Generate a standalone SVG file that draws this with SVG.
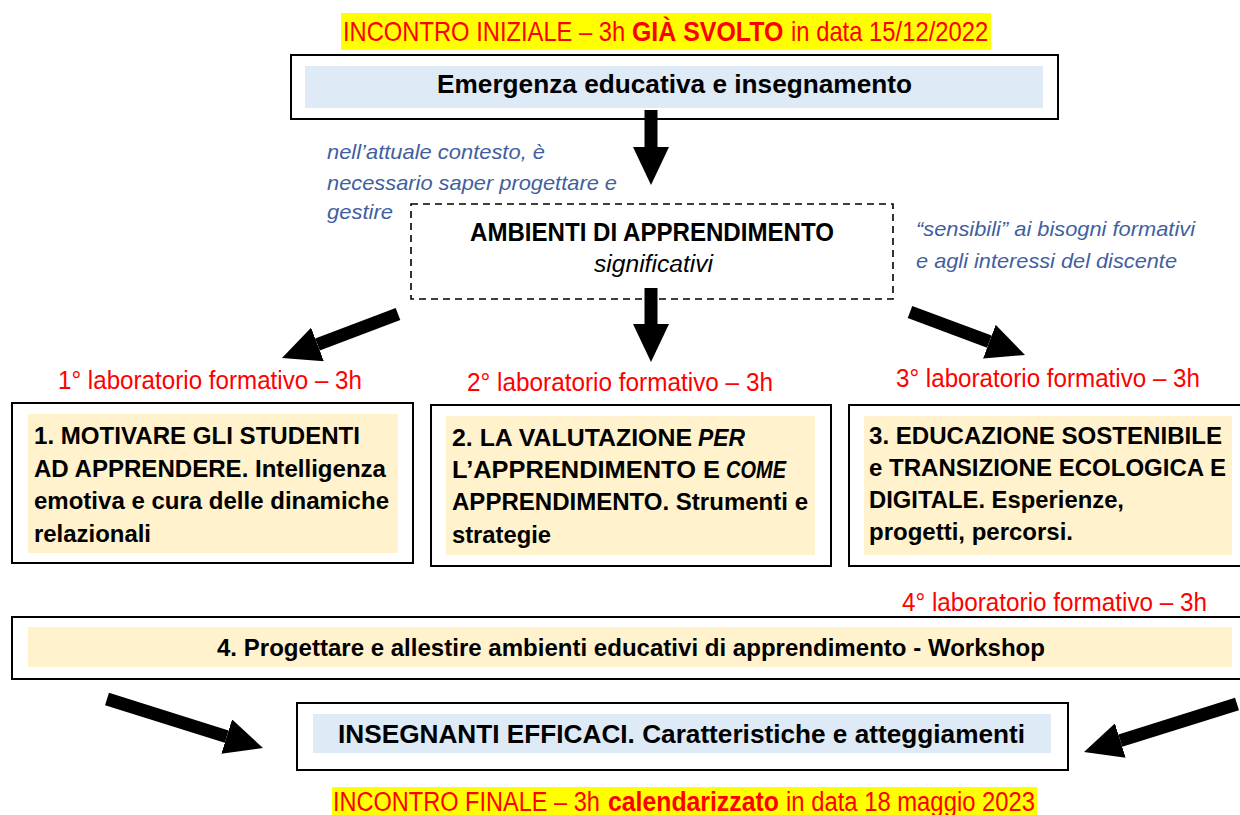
<svg xmlns="http://www.w3.org/2000/svg" width="1240" height="815" viewBox="0 0 1240 815">
<style>
.t{font-family:"Liberation Sans Narrow","Liberation Sans",Arial,sans-serif;}
.b{font-weight:bold;}
.i{font-style:italic;}
.red{fill:#FF0000;}
.blue{fill:#3F5FA0;font-style:italic;font-size:21px;}
.box{fill:#FFFFFF;stroke:#000;stroke-width:2;}
.dash{fill:#FFFFFF;stroke:#000;stroke-width:1.6;stroke-dasharray:7 5;}
.lb{fill:#DEEAF6;}
.bg{fill:#FFF2CC;}
.hl{fill:#FFFF00;}
.bt{font-size:24px;font-weight:bold;fill:#000;}
.lab{font-size:25px;fill:#FF0000;}
.arr{stroke:#000;stroke-width:13;fill:none;marker-end:url(#ah);}
</style>
<defs>
<marker id="ah" viewBox="0 0 38 36" markerWidth="38" markerHeight="36" refX="0" refY="18" markerUnits="userSpaceOnUse" orient="auto">
<path d="M0,0 L38,18 L0,36 Z" fill="#000"/>
</marker>
</defs>
<rect width="1240" height="815" fill="#FFFFFF"/>

<g id="incontro-iniziale">
<rect class="hl" x="341" y="13" width="650" height="37"/>
<text class="t red" transform="translate(343,41) scale(0.85,1)" font-size="28" textLength="332" lengthAdjust="spacingAndGlyphs">INCONTRO INIZIALE – 3h</text>
<text class="t red b" transform="translate(632,41) scale(0.85,1)" font-size="28" textLength="178" lengthAdjust="spacingAndGlyphs">GIÀ SVOLTO</text>
<text class="t red" transform="translate(791,41) scale(0.85,1)" font-size="28" textLength="232" lengthAdjust="spacingAndGlyphs">in data 15/12/2022</text>
</g>

<g id="emergenza">
<rect class="box" x="291" y="55" width="767" height="64"/>
<rect class="lb" x="305" y="66" width="738" height="42"/>
<text class="t b" x="437" y="93" font-size="26" textLength="475" lengthAdjust="spacingAndGlyphs">Emergenza educativa e insegnamento</text>
</g>

<g id="note-left">
<text class="t blue" x="327" y="159" textLength="218" lengthAdjust="spacingAndGlyphs">nell’attuale contesto, è</text>
<text class="t blue" x="327" y="190" textLength="290" lengthAdjust="spacingAndGlyphs">necessario saper progettare e</text>
<text class="t blue" x="327" y="219" textLength="66" lengthAdjust="spacingAndGlyphs">gestire</text>
</g>

<g id="ambienti">
<rect class="dash" x="411" y="204" width="482" height="95"/>
<text class="t b" x="470" y="241" font-size="25" textLength="364" lengthAdjust="spacingAndGlyphs">AMBIENTI DI APPRENDIMENTO</text>
<text class="t i" x="594" y="272" font-size="23" textLength="119" lengthAdjust="spacingAndGlyphs">significativi</text>
</g>

<g id="note-right">
<text class="t blue" x="916" y="236" textLength="279" lengthAdjust="spacingAndGlyphs">“sensibili” ai bisogni formativi</text>
<text class="t blue" x="916" y="268" textLength="261" lengthAdjust="spacingAndGlyphs">e agli interessi del discente</text>
</g>

<g id="connectors">
<line class="arr" x1="651" y1="110" x2="651" y2="147"/>
<line class="arr" x1="651" y1="288" x2="651" y2="324"/>
<line class="arr" x1="398" y1="314" x2="317.5" y2="344.5"/>
<line class="arr" x1="910" y1="312" x2="989.4" y2="341.7"/>
<line class="arr" x1="107" y1="699" x2="226.7" y2="736.6"/>
<line class="arr" x1="1237" y1="704" x2="1120.3" y2="740.6"/>
</g>

<g id="lab1">
<text class="t lab" x="58" y="389" textLength="304" lengthAdjust="spacingAndGlyphs">1° laboratorio formativo – 3h</text>
<rect class="box" x="12" y="403" width="401" height="160"/>
<rect class="bg" x="28" y="414" width="370" height="139"/>
<text class="t bt" x="34" y="444" textLength="326" lengthAdjust="spacingAndGlyphs">1. MOTIVARE GLI STUDENTI</text>
<text class="t bt" x="34" y="477" textLength="352" lengthAdjust="spacingAndGlyphs">AD APPRENDERE. Intelligenza</text>
<text class="t bt" x="34" y="509" textLength="355" lengthAdjust="spacingAndGlyphs">emotiva e cura delle dinamiche</text>
<text class="t bt" x="34" y="542" textLength="117" lengthAdjust="spacingAndGlyphs">relazionali</text>
</g>

<g id="lab2">
<text class="t lab" x="467" y="391" textLength="306" lengthAdjust="spacingAndGlyphs">2° laboratorio formativo – 3h</text>
<rect class="box" x="431" y="405" width="400" height="161"/>
<rect class="bg" x="446" y="416" width="369" height="139"/>
<text class="t bt" x="452" y="446" textLength="240" lengthAdjust="spacingAndGlyphs">2. LA VALUTAZIONE</text>
<text class="t bt i" x="698" y="446" textLength="47" lengthAdjust="spacingAndGlyphs">PER</text>
<text class="t bt" x="452" y="478" textLength="268" lengthAdjust="spacingAndGlyphs">L’APPRENDIMENTO E</text>
<text class="t bt i" x="726" y="478" textLength="60" lengthAdjust="spacingAndGlyphs">COME</text>
<text class="t bt" x="452" y="510" textLength="356" lengthAdjust="spacingAndGlyphs">APPRENDIMENTO. Strumenti e</text>
<text class="t bt" x="452" y="543" textLength="99" lengthAdjust="spacingAndGlyphs">strategie</text>
</g>

<g id="lab3">
<text class="t lab" x="896" y="387" textLength="304" lengthAdjust="spacingAndGlyphs">3° laboratorio formativo – 3h</text>
<rect class="box" x="849" y="405" width="400" height="161"/>
<rect class="bg" x="864" y="416" width="368" height="139"/>
<text class="t bt" x="869" y="444" textLength="353" lengthAdjust="spacingAndGlyphs">3. EDUCAZIONE SOSTENIBILE</text>
<text class="t bt" x="869" y="476" textLength="357" lengthAdjust="spacingAndGlyphs">e TRANSIZIONE ECOLOGICA E</text>
<text class="t bt" x="869" y="508" textLength="255" lengthAdjust="spacingAndGlyphs">DIGITALE. Esperienze,</text>
<text class="t bt" x="869" y="540" textLength="204" lengthAdjust="spacingAndGlyphs">progetti, percorsi.</text>
</g>

<g id="lab4">
<text class="t lab" x="902" y="611" textLength="305" lengthAdjust="spacingAndGlyphs">4° laboratorio formativo – 3h</text>
<rect class="box" x="12" y="617" width="1240" height="62"/>
<rect class="bg" x="28" y="627" width="1204" height="40"/>
<text class="t bt" x="217" y="656" textLength="828" lengthAdjust="spacingAndGlyphs">4. Progettare e allestire ambienti educativi di apprendimento - Workshop</text>
</g>

<g id="insegnanti">
<rect class="box" x="297" y="703" width="771" height="67"/>
<rect class="lb" x="313" y="714" width="738" height="39"/>
<text class="t b" x="338" y="743" font-size="25" textLength="687" lengthAdjust="spacingAndGlyphs">INSEGNANTI EFFICACI. Caratteristiche e atteggiamenti</text>
</g>

<g id="incontro-finale">
<rect class="hl" x="332" y="787" width="705" height="28"/>
<text class="t red" transform="translate(333,811) scale(0.85,1)" font-size="27" textLength="314" lengthAdjust="spacingAndGlyphs">INCONTRO FINALE – 3h</text>
<text class="t red b" transform="translate(608,811) scale(0.85,1)" font-size="27" textLength="201" lengthAdjust="spacingAndGlyphs">calendarizzato</text>
<text class="t red" transform="translate(786,811) scale(0.85,1)" font-size="27" textLength="293" lengthAdjust="spacingAndGlyphs">in data 18 maggio 2023</text>
</g>
</svg>
